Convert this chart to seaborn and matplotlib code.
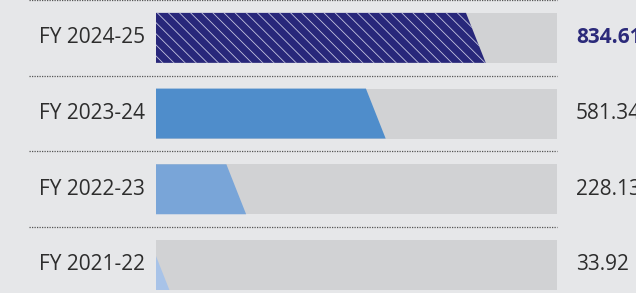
import matplotlib
matplotlib.use("Agg")
import matplotlib.pyplot as plt
import matplotlib.transforms as mtransforms
import seaborn as sns
import pandas as pd

# data
years = ["FY 2024-25", "FY 2023-24", "FY 2022-23", "FY 2021-22"]
values = [834.61, 581.34, 228.13, 33.92]
value_labels = ["834.61", "581.34", "228.13", "33.92"]

# style
bar_colors = ["#28277a", "#4f8dcb", "#79a5d8", "#a8c3e8"]
label_colors = ["#2b2a7a", "#2d2d2d", "#2d2d2d", "#2d2d2d"]
bg = "#e6e7e9"
track = "#d1d2d4"
x_max = 1015
slant = 50  # slanted right edge, in data units

sns.set_theme(style="white")
plt.rcParams["font.family"] = ["Open Sans", "DejaVu Sans"]
plt.rcParams["hatch.linewidth"] = 0.6

df = pd.DataFrame({"year": years, "value": values, "track": [x_max] * len(years)})

fig = plt.figure(figsize=(6.36, 2.93), dpi=100, facecolor=bg)
ax = fig.add_axes([156 / 636, 0, (557 - 156) / 636, 1])
ax.set_facecolor(bg)

# gray track behind each bar
sns.barplot(data=df, x="track", y="year", orient="h", color=track,
            width=0.66, saturation=1, linewidth=0, ax=ax)

# trapezoid value bars drawn over the track
for i, (v, c) in enumerate(zip(values, bar_colors)):
    p = ax.patches[i]
    y0, h = p.get_y(), p.get_height()
    xs = [0, v - slant, v, 0]
    ys = [y0, y0, y0 + h, y0 + h]
    if v - slant < 0:
        # clip the slant at the left edge
        yc = y0 + h * (slant - v) / slant
        xs = [0, v, 0]
        ys = [yc, y0 + h, y0 + h]
    poly = ax.fill(xs, ys, facecolor=c, edgecolor=c, lw=0, zorder=3)[0]
    if i == 0:
        poly.set_edgecolor("#c4c4e0")
        poly.set_hatch("\\\\\\")

ax.set_xlim(0, x_max)
ax.set_ylim(3.37, -0.5)
ax.set_xlabel("")
ax.set_ylabel("")
ax.set_xticks([])
ax.set_yticks([])
for s in ax.spines.values():
    s.set_visible(False)

trans = mtransforms.blended_transform_factory(ax.transAxes, ax.transData)
left = (29 - 156) / 401
for yy in [-0.495, 0.5, 1.5, 2.5]:
    ax.plot([left, 1], [yy, yy], transform=trans, color="#555555",
            lw=0.9, ls=(0, (1, 1)), clip_on=False, zorder=4)

for i, (yr, lab, lc) in enumerate(zip(years, value_labels, label_colors)):
    ax.text(-0.027, i, yr, transform=trans, ha="right", va="center",
            fontsize=15, color="#2d2d2d", clip_on=False)
    ax.text(1.047, i, lab, transform=trans, ha="left", va="center",
            fontsize=15, color=lc, fontweight="bold" if i == 0 else "normal",
            clip_on=False)

fig.savefig("out.png", dpi=100, facecolor=bg)
